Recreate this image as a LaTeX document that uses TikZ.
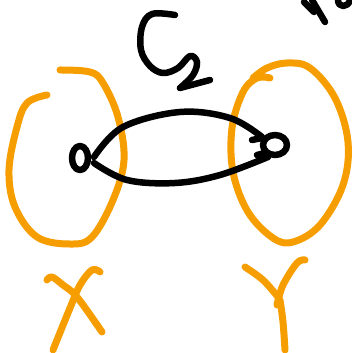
\documentclass[tikz,border=0pt]{standalone}
\definecolor{inkorange}{RGB}{246,158,0}
\begin{document}
\begin{tikzpicture}[x=1pt,y=-1pt,
  pen/.style={line width=6.5pt,line cap=round,line join=round},
  orangepen/.style={pen,draw=inkorange,line width=7pt},
  blackpen/.style={pen,draw=black}]
\useasboundingbox (0,0) rectangle (352,353);
% left set X
\draw[orangepen] plot[smooth,tension=0.6] coordinates {(47,95) (27,103) (17,127) (9,170) (15,207) (37,237) (70,244) (92,237) (113,200) (124,160) (118,117) (103,83) (90,72) (60,70)};
% right set Y
\draw[orangepen] plot[smooth,tension=0.6] coordinates {(270,78) (257,78) (243,92) (232,128) (233,172) (248,212) (273,238) (293,242) (320,225) (343,185) (348,142) (335,98) (310,68) (287,63) (267,68) (253,78)};
% edges of C_2
\coordinate (u) at (80,158);
\coordinate (v) at (275,145);
\draw[blackpen] plot[smooth,tension=0.6] coordinates {(94,157) (123,127) (180,112) (230,118) (262,137)};
\draw[blackpen] plot[smooth,tension=0.6] coordinates {(94,163) (127,180) (175,183) (220,175) (268,157)};
% vertices
\draw[blackpen] (u) ellipse [x radius=8pt, y radius=12pt];
\draw[blackpen] (v) ellipse [x radius=12pt, y radius=10pt];
\draw[blackpen] (252,140) -- (262,138);
\draw[blackpen] (257,155) -- (265,153);
% label C_2
\draw[blackpen] plot[smooth,tension=0.6] coordinates {(175,15) (152,14) (142,27) (141,50) (150,66) (163,73) (178,68) (190,56) (197,62) (193,75) (180,88)};
\draw[blackpen] (180,88) -- (210,80);
% X
\draw[orangepen] plot[smooth,tension=0.6] coordinates {(47,280) (52,277) (63,285) (77,297) (102,332)};
\draw[orangepen] plot[smooth,tension=0.6] coordinates {(100,272) (92,270) (80,285) (70,308) (53,350)};
% Y
\draw[orangepen] plot[smooth,tension=0.6] coordinates {(245,267) (263,280) (278,297)};
\draw[orangepen] plot[smooth,tension=0.6] coordinates {(305,260) (297,263) (283,285) (277,305)};
\draw[orangepen] plot[smooth,tension=0.6] coordinates {(280,300) (283,322) (285,350)};
% partial marks top right
\draw[blackpen] (304,2) -- (314,12);
\draw[blackpen] (312,0) -- (325,22);
\draw[blackpen] (338,0) .. controls (338,8) and (348,8) .. (350,0);
\end{tikzpicture}
\end{document}
